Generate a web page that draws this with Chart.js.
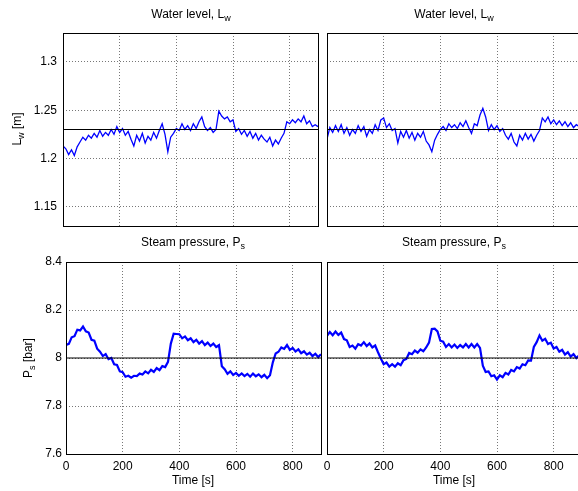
<!DOCTYPE html>
<html>
<head>
<meta charset="utf-8">
<script src="https://cdn.jsdelivr.net/npm/chart.js@4.4.0/dist/chart.umd.min.js"></script>
<style>
html, body { margin: 0; padding: 0; background: #fff; overflow: hidden; }
#fig { position: relative; width: 578px; height: 491px; overflow: hidden; font-family: "Liberation Sans", Arial, sans-serif; color: #000; }
#fig canvas { position: absolute; }
.lbl { position: absolute; font-size: 12px; white-space: nowrap; transform: translate(-50%, -50%); line-height: 14px; }
.lbl sub { font-size: 9px; vertical-align: baseline; position: relative; top: 3px; }
.rot { transform: translate(-50%, -50%) rotate(-90deg); }
</style>
</head>
<body>
<div id="fig">
  <canvas id="tl" width="322" height="244" style="left:0px;top:0px"></canvas>
  <canvas id="tr" width="269" height="244" style="left:317px;top:0px"></canvas>
  <canvas id="bl" width="326" height="261" style="left:0px;top:230px"></canvas>
  <canvas id="br" width="269" height="261" style="left:317px;top:230px"></canvas>

  <div class="lbl" style="left:191px;top:14px">Water level, L<sub>w</sub></div>
  <div class="lbl" style="left:454px;top:14px">Water level, L<sub>w</sub></div>
  <div class="lbl" style="left:193px;top:242px">Steam pressure, P<sub>s</sub></div>
  <div class="lbl" style="left:454px;top:242px">Steam pressure, P<sub>s</sub></div>
  <div class="lbl rot" style="left:17px;top:129px">L<sub>w</sub> [m]</div>
  <div class="lbl rot" style="left:28px;top:358px">P<sub>s</sub> [bar]</div>
  <div class="lbl" style="left:193px;top:480px">Time [s]</div>
  <div class="lbl" style="left:454px;top:480px">Time [s]</div>
</div>
<script>
// time axis [s]
const time = [
  0, 10, 20, 30, 40, 50, 60, 70, 80, 90,
  100, 110, 120, 130, 140, 150, 160, 170, 180, 190,
  200, 210, 220, 230, 240, 250, 260, 270, 280, 290,
  300, 310, 320, 330, 340, 350, 360, 370, 380, 390,
  400, 410, 420, 430, 440, 450, 460, 470, 480, 490,
  500, 510, 520, 530, 540, 550, 560, 570, 580, 590,
  600, 610, 620, 630, 640, 650, 660, 670, 680, 690,
  700, 710, 720, 730, 740, 750, 760, 770, 780, 790,
  800, 810, 820, 830, 840, 850, 860, 870, 880, 890,
  900
];

// water level [m], left and right case
const levelLeft = [
  1.213, 1.210, 1.204, 1.209, 1.203, 1.212, 1.217, 1.222, 1.219, 1.224,
  1.221, 1.226, 1.222, 1.229, 1.223, 1.227, 1.224, 1.230, 1.225, 1.233,
  1.227, 1.231, 1.224, 1.228, 1.220, 1.213, 1.224, 1.218, 1.226, 1.216,
  1.223, 1.219, 1.227, 1.221, 1.229, 1.236, 1.225, 1.207, 1.222, 1.226,
  1.231, 1.229, 1.236, 1.230, 1.234, 1.229, 1.236, 1.231, 1.238, 1.243,
  1.233, 1.229, 1.232, 1.227, 1.230, 1.249, 1.244, 1.241, 1.243, 1.238,
  1.240, 1.228, 1.231, 1.225, 1.229, 1.223, 1.228, 1.221, 1.226, 1.219,
  1.224, 1.220, 1.217, 1.222, 1.213, 1.219, 1.215, 1.221, 1.226, 1.238,
  1.236, 1.240, 1.237, 1.241, 1.238, 1.244, 1.236, 1.239, 1.233, 1.235,
  1.233
];
const levelRight = [
  1.220, 1.232, 1.227, 1.234, 1.228, 1.235, 1.226, 1.232, 1.224, 1.230,
  1.226, 1.234, 1.228, 1.233, 1.223, 1.230, 1.226, 1.235, 1.229, 1.240,
  1.242, 1.232, 1.236, 1.229, 1.231, 1.216, 1.228, 1.222, 1.229, 1.221,
  1.227, 1.219, 1.226, 1.222, 1.228, 1.218, 1.214, 1.207, 1.219, 1.225,
  1.230, 1.233, 1.229, 1.236, 1.232, 1.235, 1.231, 1.237, 1.233, 1.239,
  1.232, 1.226, 1.236, 1.234, 1.245, 1.252, 1.243, 1.229, 1.235, 1.230,
  1.234, 1.228, 1.231, 1.224, 1.220, 1.226, 1.217, 1.213, 1.224, 1.219,
  1.226, 1.220, 1.225, 1.218, 1.224, 1.229, 1.242, 1.238, 1.243, 1.236,
  1.240, 1.235, 1.239, 1.234, 1.238, 1.233, 1.237, 1.232, 1.235, 1.233,
  1.234
];

// steam pressure [bar], left and right case
const pressLeft = [
  8.054, 8.059, 8.086, 8.091, 8.118, 8.115, 8.131, 8.111, 8.106, 8.076,
  8.072, 8.039, 8.026, 8.008, 8.016, 7.995, 8.000, 7.974, 7.971, 7.944,
  7.941, 7.922, 7.926, 7.918, 7.926, 7.925, 7.935, 7.931, 7.944, 7.936,
  7.951, 7.942, 7.958, 7.949, 7.966, 7.962, 7.984, 8.060, 8.101, 8.100,
  8.099, 8.082, 8.090, 8.074, 8.082, 8.066, 8.076, 8.060, 8.070, 8.054,
  8.064, 8.050, 8.060, 8.046, 8.054, 7.966, 7.953, 7.934, 7.944, 7.929,
  7.938, 7.926, 7.936, 7.925, 7.934, 7.922, 7.935, 7.924, 7.932, 7.920,
  7.930, 7.916, 7.928, 7.982, 8.019, 8.026, 8.044, 8.038, 8.054, 8.034,
  8.042, 8.027, 8.036, 8.020, 8.028, 8.014, 8.022, 8.008, 8.018, 8.004,
  8.016
];
const pressRight = [
  8.092, 8.108, 8.095, 8.110, 8.096, 8.106, 8.079, 8.074, 8.046, 8.052,
  8.039, 8.058, 8.052, 8.066, 8.050, 8.061, 8.044, 8.052, 8.024, 7.998,
  7.974, 7.981, 7.964, 7.974, 7.964, 7.978, 7.970, 7.991, 7.996, 8.021,
  8.016, 8.031, 8.022, 8.036, 8.028, 8.044, 8.064, 8.121, 8.122, 8.111,
  8.072, 8.068, 8.046, 8.058, 8.044, 8.056, 8.042, 8.054, 8.044, 8.058,
  8.044, 8.058, 8.044, 8.058, 8.042, 7.968, 7.942, 7.944, 7.924, 7.928,
  7.910, 7.928, 7.920, 7.938, 7.931, 7.950, 7.944, 7.962, 7.956, 7.974,
  7.970, 7.990, 7.989, 8.046, 8.066, 8.094, 8.072, 8.080, 8.058, 8.064,
  8.040, 8.046, 8.026, 8.034, 8.014, 8.024, 8.006, 8.016, 8.000, 8.011,
  7.998
];

// setpoints drawn as black lines
const levelRef = 1.23;
const pressRef = 8;

// axis limits and tick marks
const timeRange = [0, 900];
const timeTicks = [0, 200, 400, 600, 800];
const levelRange = [1.13, 1.33];
const levelTicks = [1.15, 1.2, 1.25, 1.3];
const pressRange = [7.6, 8.4];
const pressTicks = [7.6, 7.8, 8, 8.2, 8.4];

Chart.defaults.font.family = '"Liberation Sans", Arial, sans-serif';
Chart.defaults.font.size = 12;
Chart.defaults.color = '#000';

// black box round the plot area, like matlab axes
const framePlugin = {
  id: 'frame',
  afterDraw(chart) {
    const { ctx, chartArea: a } = chart;
    ctx.save();
    ctx.strokeStyle = '#000';
    ctx.lineWidth = 1;
    ctx.strokeRect(a.left + 0.5, a.top + 0.5, a.right - a.left, a.bottom - a.top);
    ctx.restore();
  }
};

const makePlot = (id, values, ref, yRange, yTicks, lw, cfg) => {
  const pts = time.map((t, i) => ({ x: t, y: values[i] }));
  new Chart(document.getElementById(id), {
    type: 'line',
    data: {
      datasets: [
        { data: [{ x: timeRange[0], y: ref }, { x: timeRange[1], y: ref }], borderColor: '#000', borderWidth: 1, pointRadius: 0 },
        { data: pts, borderColor: '#0000ff', borderWidth: lw, pointRadius: 0, tension: 0 }
      ]
    },
    options: {
      responsive: false,
      animation: false,
      events: [],
      layout: { padding: cfg.pad },
      plugins: { legend: { display: false }, tooltip: { enabled: false } },
      scales: {
        x: {
          type: 'linear',
          min: timeRange[0],
          max: timeRange[1],
          afterBuildTicks: s => { s.ticks = timeTicks.map(v => ({ value: v })); },
          afterFit: s => { s.height = cfg.xh; },
          border: { display: false, dash: [1, 2] },
          grid: { color: '#777', drawTicks: false },
          ticks: { display: cfg.showX, padding: 5, maxRotation: 0, minRotation: 0, autoSkip: false }
        },
        y: {
          min: yRange[0],
          max: yRange[1],
          afterBuildTicks: s => { s.ticks = yTicks.map(v => ({ value: v })); },
          afterFit: s => { s.width = cfg.yw; },
          border: { display: false, dash: [1, 2] },
          grid: { color: '#777', drawTicks: false },
          ticks: { display: cfg.showY, padding: cfg.ypad, autoSkip: false,
                   callback: v => String(+v.toFixed(3)) }
        }
      }
    },
    plugins: [framePlugin]
  });
};

makePlot('tl', levelLeft, levelRef, levelRange, levelTicks, 1.3,
  { pad: { left: 0, top: 33, right: 4, bottom: 0 }, xh: 18, yw: 63, showX: false, showY: true, ypad: 6 });
makePlot('tr', levelRight, levelRef, levelRange, levelTicks, 1.3,
  { pad: { left: 0, top: 33, right: 4, bottom: 0 }, xh: 18, yw: 10, showX: false, showY: false, ypad: 6 });
makePlot('bl', pressLeft, pressRef, pressRange, pressTicks, 2.2,
  { pad: { left: 0, top: 32, right: 5, bottom: 0 }, xh: 37, yw: 66, showX: true, showY: true, ypad: 4 });
makePlot('br', pressRight, pressRef, pressRange, pressTicks, 2.2,
  { pad: { left: 0, top: 32, right: 4, bottom: 0 }, xh: 37, yw: 10, showX: true, showY: false, ypad: 4 });
</script>
</body>
</html>
